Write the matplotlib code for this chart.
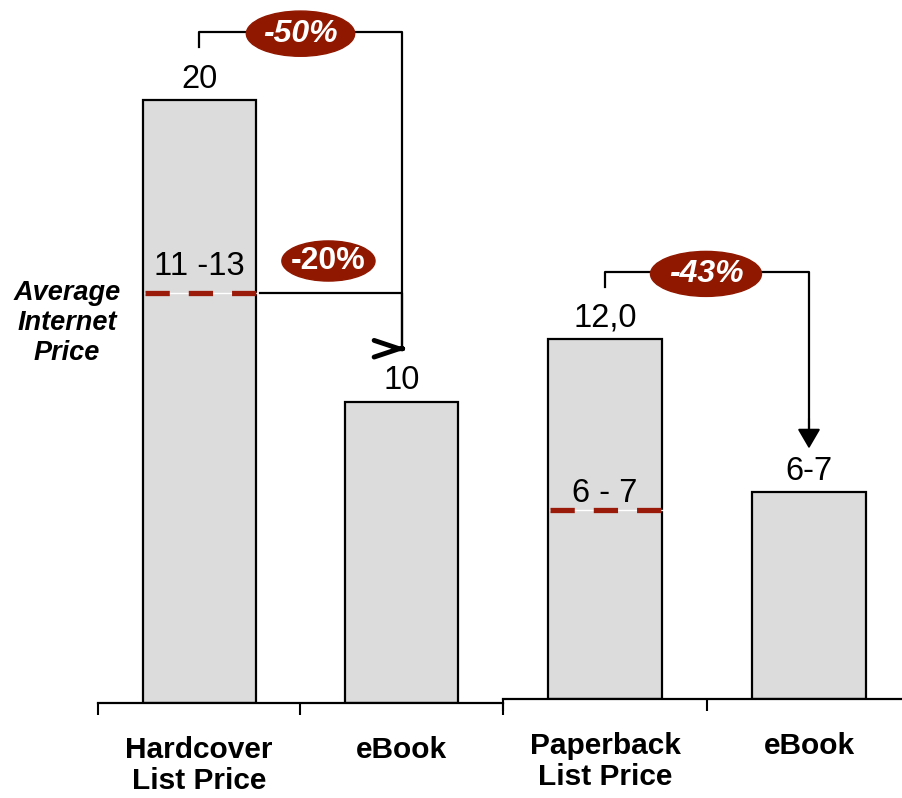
import numpy as np
import matplotlib

matplotlib.use('Agg')
import matplotlib.pyplot as plt
from matplotlib.patches import Ellipse

plt.rcParams['font.family'] = ['Liberation Sans', 'DejaVu Sans']

# data
hard_cats = ['Hardcover\nList Price', 'eBook']
hard_values = [20, 10]
hard_labels = ['20', '10']
hard_internet = 13.6
hard_internet_label = '11 -13'

paper_cats = ['Paperback\nList Price', 'eBook']
paper_values = [12, 6.9]
paper_labels = ['12,0', '6-7']
paper_internet = 6.3
paper_internet_label = '6 - 7'

change_labels = ['-50%', '-20%', '-43%']

bar_color = '#dcdcdc'
red_dash = '#9b1b0a'
badge_color = '#911800'

fig = plt.figure(figsize=(9.03, 7.98), dpi=100)
ax1 = fig.add_axes([98 / 903, 95 / 798, 405 / 903, 23 * 30.15 / 798])
ax2 = fig.add_axes([503 / 903, 99 / 798, 408 / 903, 23 * 30.0 / 798])


def setup(ax, cats, values, labels):
    x = np.arange(len(values))
    ax.bar(x, values, width=0.56, color=bar_color, edgecolor='black', linewidth=1.6, zorder=2)
    for xi, v, lab in zip(x, values, labels):
        ax.annotate(lab, (xi, v), xytext=(0, 9), textcoords='offset points',
                    ha='center', va='baseline', fontsize=23.5)
    ax.set_xlim(-0.5, len(values) - 0.5)
    ax.set_ylim(0, 23)
    ax.set_xticks(np.arange(len(values) + 1) - 0.5)
    ax.set_xticklabels([])
    ax.set_xticks(x, minor=True)
    ax.set_xticklabels(cats, minor=True, fontsize=21.5, fontweight='bold', linespacing=1.1)
    ax.tick_params(axis='x', which='major', length=8.6, width=1.5, direction='out')
    ax.tick_params(axis='x', which='minor', length=0, pad=24)
    ax.set_yticks([])
    for s in ['left', 'right', 'top']:
        ax.spines[s].set_visible(False)
    ax.spines['bottom'].set_linewidth(1.6)
    ax.patch.set_alpha(0)


def internet_line(ax, level, label, off):
    xs = [-0.27, 0.3]
    ax.plot(xs, [level, level], color='white', lw=1, zorder=3)
    ax.plot(xs, [level, level], color=red_dash, lw=3.8, dashes=(4.6, 3.6),
            solid_capstyle='butt', dash_capstyle='butt', zorder=4)
    ax.annotate(label, (0, level), xytext=(0, off), textcoords='offset points',
                ha='center', va='baseline', fontsize=23.5, zorder=5)


def badge(ax, xy, w, h, text, style):
    ax.add_patch(Ellipse(xy, w, h, color=badge_color, zorder=6, clip_on=False))
    ax.text(xy[0], xy[1], text, color='white', fontsize=23, fontweight='bold',
            fontstyle=style, ha='center', va='center', zorder=7, clip_on=False)


def down_head(ax, x, y):
    ax.annotate('', xy=(x, y), xytext=(x, y + 1),
                arrowprops=dict(arrowstyle='-|>,head_length=1.2,head_width=0.7', color='black',
                                lw=1.5, shrinkA=0, shrinkB=0, mutation_scale=10),
                annotation_clip=False, zorder=5)


setup(ax1, hard_cats, hard_values, hard_labels)
setup(ax2, paper_cats, paper_values, paper_labels)
internet_line(ax1, hard_internet, hard_internet_label, 13)
internet_line(ax2, paper_internet, paper_internet_label, 6)

# -50% bracket, hardcover -> ebook
top = hard_values[0] + 2.25
tip = hard_values[1] + 1.75
ax1.plot([0, 0, 1, 1], [hard_values[0] + 1.75, top, top, tip], color='black', lw=1.6,
         clip_on=False, zorder=5)
badge(ax1, (0.5, top - 0.05), 0.535, 1.5, change_labels[0], 'italic')

# -20% bracket, internet price -> ebook
ax1.plot([0.3, 1, 1], [hard_internet, hard_internet, tip], color='black', lw=1.6,
         clip_on=False, zorder=5)
ax1.annotate('', xy=(1.025, tip), xytext=(1.0, tip),
             arrowprops=dict(arrowstyle='->,head_length=1.8,head_width=0.6', color='black',
                             lw=3.5, shrinkA=0, shrinkB=0, mutation_scale=10),
             annotation_clip=False, zorder=5)
badge(ax1, (0.638, hard_internet + 1.06), 0.46, 1.33, change_labels[1], 'normal')

# -43% bracket, paperback -> ebook
top2 = paper_values[0] + 2.25
tip2 = paper_values[1] + 1.45
ax2.plot([0, 0, 1, 1], [paper_values[0] + 1.75, top2, top2, tip2 + 0.3], color='black', lw=1.6,
         clip_on=False, zorder=5)
down_head(ax2, 1, tip2)
badge(ax2, (0.495, top2 - 0.08), 0.544, 1.5, change_labels[2], 'italic')

ax1.text(-0.653, 12.6, 'Average\nInternet\nPrice', ha='center', va='center', fontsize=19.5,
         fontweight='bold', fontstyle='italic', clip_on=False)

plt.savefig('out.png', dpi=100)
